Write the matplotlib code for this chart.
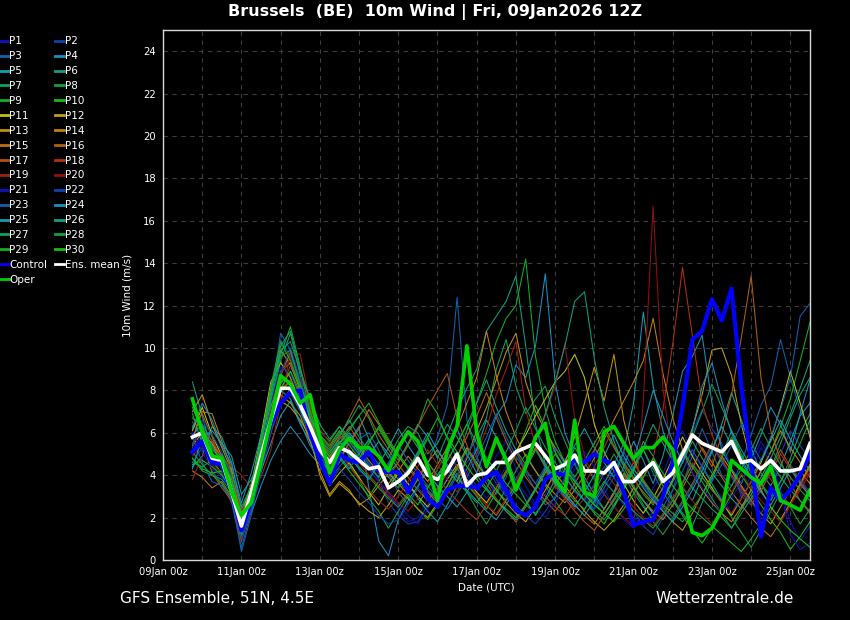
import matplotlib
matplotlib.use('Agg')
import matplotlib.pyplot as plt
import matplotlib.dates as mdates
import pandas as pd

# 6-hourly steps from 09Jan 18z to 25Jan 12z (64 steps)
times = pd.date_range('2026-01-09 18:00', periods=64, freq='6h')

control = [5.1, 5.6, 4.6, 4.5, 3.2, 1.4, 2.8, 4.6, 6.4, 7.4, 7.9, 8.0, 6.0, 4.7, 3.6, 5.0,
           4.7, 4.6, 5.1, 4.2, 4.15, 4.15, 3.2, 4.15, 2.9, 2.5, 3.3, 3.5, 3.5, 3.4, 3.9, 4.15,
           3.3, 2.35, 2.1, 2.5, 3.8, 4.1, 4.0, 4.8, 4.6, 5.0, 4.7, 4.5, 3.2, 1.65, 1.8, 1.9,
           3.0, 4.6, 7.2, 10.4, 10.8, 12.3, 11.3, 12.8, 8.2, 4.6, 1.1, 3.4, 2.8, 3.3, 4.0, 5.0]
ens_mean = [5.8, 6.0, 4.8, 4.7, 3.2, 1.6, 3.2, 4.9, 6.6, 8.1, 8.1, 7.3, 6.3, 5.2, 4.6, 5.3,
            5.1, 4.7, 4.3, 4.4, 3.4, 3.7, 4.1, 4.8, 4.0, 3.8, 4.2, 5.0, 3.5, 4.0, 4.1, 4.6,
            4.6, 5.1, 5.3, 5.5, 4.9, 4.3, 4.5, 4.95, 4.2, 4.2, 4.1, 4.6, 3.7, 3.7, 4.2, 4.6,
            3.7, 4.1, 5.0, 5.9, 5.5, 5.3, 5.1, 5.6, 4.6, 4.7, 4.3, 4.7, 4.2, 4.2, 4.3, 5.5]
oper = [7.6, 6.0, 4.9, 4.8, 3.2, 2.1, 2.7, 4.6, 6.6, 8.7, 8.3, 7.4, 7.8, 5.8, 4.1, 5.2,
        5.75, 5.3, 5.3, 4.9, 4.2, 5.3, 6.05, 5.6, 4.4, 2.8, 5.2, 6.3, 10.1, 6.0, 4.4, 5.75,
        4.7, 3.3, 4.4, 5.8, 6.45, 3.8, 3.2, 6.6, 3.2, 3.0, 6.05, 6.3, 5.5, 4.8, 5.3, 5.3,
        5.8, 5.2, 3.1, 1.3, 1.15, 1.5, 2.35, 4.7, 4.3, 3.9, 3.6, 4.4, 2.8, 2.6, 2.35, 3.3]

p01 = [5.2, 5.9, 5.0, 4.4, 3.0, 1.0, 2.6, 4.9, 7.0, 8.6, 8.4, 7.3, 6.1, 4.8, 4.1, 4.9,
       5.3, 4.2, 3.9, 4.6, 3.1, 2.4, 1.8, 2.0, 2.9, 3.6, 4.4, 5.1, 4.0, 3.2, 3.8, 4.9,
       5.6, 4.3, 3.5, 2.6, 3.1, 4.2, 4.8, 3.9, 3.0, 2.4, 3.3, 2.6, 1.9, 1.5, 2.2, 3.4,
       4.1, 5.2, 6.1, 5.0, 4.4, 3.6, 2.9, 2.2, 3.1, 4.0, 5.3, 4.6, 3.3, 1.8, 0.9, 1.6]
p02 = [4.6, 5.3, 4.7, 4.0, 3.1, 1.3, 3.2, 5.6, 7.7, 10.4, 9.6, 8.0, 6.8, 5.2, 4.6, 5.4,
       5.9, 5.2, 4.6, 3.8, 2.7, 2.1, 1.7, 1.8, 2.6, 3.3, 3.1, 4.0, 4.6, 5.3, 4.4, 3.6,
       3.0, 3.8, 4.6, 5.9, 6.3, 5.1, 4.0, 3.2, 2.8, 3.6, 4.4, 3.9, 3.1, 2.3, 1.6, 1.2,
       2.0, 3.3, 4.8, 6.0, 7.1, 6.2, 5.5, 4.3, 3.0, 2.6, 3.5, 4.2, 5.0, 6.1, 5.4, 4.7]
p03 = [6.5, 5.6, 4.2, 3.6, 2.7, 0.6, 2.3, 4.1, 6.0, 7.4, 7.9, 7.0, 5.8, 4.6, 3.8, 4.4,
       4.9, 5.7, 6.0, 5.2, 4.1, 3.2, 2.6, 3.4, 4.5, 5.8, 7.3, 12.4, 6.6, 4.9, 3.8, 3.1,
       3.9, 5.2, 4.1, 3.3, 2.6, 2.9, 3.8, 4.6, 3.7, 2.8, 2.1, 2.9, 3.6, 4.4, 5.2, 4.1,
       3.2, 2.5, 3.6, 4.9, 6.2, 5.1, 4.0, 3.5, 4.6, 5.9, 7.3, 8.2, 10.4, 8.6, 7.1, 6.0]
p04 = [5.9, 6.4, 5.6, 4.8, 3.9, 2.0, 2.2, 3.5, 4.7, 5.6, 6.3, 5.7, 5.0, 4.5, 3.9, 4.6,
       5.6, 6.3, 3.4, 0.9, 0.2, 1.9, 2.8, 3.5, 4.2, 3.8, 4.9, 6.2, 5.0, 4.1, 5.4, 6.8,
       7.5, 9.2, 8.6, 10.1, 13.5, 8.4, 6.0, 4.8, 3.9, 3.1, 2.4, 3.2, 4.4, 5.6, 4.7, 3.6,
       4.9, 6.8, 8.9, 9.6, 10.6, 7.4, 5.2, 4.3, 3.6, 4.8, 5.9, 7.2, 6.4, 5.1, 6.9, 8.5]
p05 = [4.4, 4.9, 6.3, 5.8, 4.6, 2.4, 3.3, 4.2, 5.5, 6.8, 7.5, 6.4, 5.6, 5.0, 4.7, 5.5,
       6.0, 5.4, 4.9, 5.6, 5.0, 4.3, 3.6, 2.9, 2.3, 1.8, 2.6, 3.5, 4.3, 5.2, 6.6, 5.8,
       4.9, 3.7, 2.8, 2.1, 2.9, 3.8, 4.7, 5.4, 6.2, 5.3, 4.6, 3.9, 5.1, 7.4, 11.7, 8.2,
       6.1, 4.7, 3.4, 2.8, 3.9, 5.1, 6.4, 7.9, 6.6, 5.3, 4.1, 3.5, 4.4, 5.6, 6.8, 7.4]
p06 = [8.4, 6.8, 5.1, 4.3, 3.1, 1.2, 2.8, 4.6, 6.6, 8.3, 8.9, 7.6, 6.5, 5.5, 5.1, 5.7,
       6.2, 6.8, 5.7, 4.9, 4.1, 4.6, 5.5, 6.4, 5.8, 4.8, 5.9, 7.1, 8.1, 9.0, 10.8, 11.5,
       12.2, 13.4, 10.1, 6.4, 4.5, 3.6, 4.2, 5.3, 4.6, 3.8, 3.1, 2.5, 3.4, 4.3, 5.6, 4.9,
       3.8, 2.9, 2.2, 1.6, 2.7, 3.8, 4.9, 6.1, 5.2, 4.4, 3.6, 2.8, 3.7, 4.8, 6.0, 6.9]
p07 = [4.8, 4.2, 4.0, 3.8, 3.2, 1.1, 2.9, 5.1, 7.3, 9.4, 10.7, 8.7, 6.3, 5.8, 5.3, 6.0,
       6.5, 7.3, 6.7, 5.6, 4.8, 5.7, 6.3, 6.0, 5.0, 5.5, 6.4, 5.8, 4.9, 5.8, 6.7, 9.0,
       10.4, 8.2, 6.9, 7.6, 8.2, 6.7, 5.6, 4.5, 3.6, 2.9, 2.4, 3.1, 4.0, 3.2, 2.5, 1.9,
       2.8, 3.7, 4.6, 5.8, 7.0, 8.3, 7.2, 6.1, 5.0, 4.1, 3.2, 4.3, 5.5, 6.7, 7.8, 8.6]
p08 = [7.6, 6.3, 5.3, 4.6, 3.6, 1.5, 3.3, 5.3, 7.1, 8.9, 9.3, 8.2, 7.0, 5.6, 4.8, 5.2,
       4.5, 3.8, 2.9, 2.3, 1.5, 2.3, 3.0, 2.4, 1.9, 2.6, 3.3, 4.1, 3.2, 2.4, 1.7, 2.5,
       3.4, 4.2, 5.0, 4.2, 3.5, 2.8, 2.1, 1.6, 2.4, 3.2, 4.1, 5.0, 4.2, 3.4, 2.6, 1.8,
       1.2, 1.9, 2.7, 3.5, 4.4, 3.6, 2.8, 2.0, 1.3, 0.6, 1.4, 2.3, 3.2, 2.5, 1.7, 2.4]
p09 = [6.9, 5.5, 4.7, 4.1, 3.4, 1.8, 3.4, 5.6, 7.9, 9.7, 11.0, 9.1, 7.3, 6.1, 5.6, 6.3,
       5.8, 5.1, 5.6, 6.2, 5.4, 4.7, 5.5, 6.3, 7.6, 6.9, 5.7, 4.8, 6.1, 7.4, 8.8, 10.3,
       11.4, 12.0, 14.2, 9.6, 7.1, 5.6, 4.6, 3.9, 4.7, 5.5, 6.3, 5.4, 4.6, 3.9, 3.1, 2.6,
       3.4, 4.3, 5.2, 4.4, 3.7, 2.9, 2.2, 1.5, 2.4, 3.3, 4.2, 5.1, 6.3, 7.6, 9.4, 11.2]
p10 = [4.5, 4.7, 4.4, 4.0, 3.3, 1.6, 3.0, 4.8, 6.5, 8.0, 8.4, 7.8, 6.9, 5.3, 4.2, 4.8,
       4.2, 3.6, 3.0, 3.7, 4.4, 3.8, 3.1, 2.6, 3.4, 4.3, 5.1, 4.4, 3.6, 3.0, 2.4, 3.2,
       4.1, 5.0, 6.1, 7.3, 6.2, 5.1, 4.3, 3.5, 2.8, 2.2, 1.7, 2.5, 3.3, 4.2, 5.2, 4.3,
       3.5, 2.8, 2.1, 1.4, 0.8, 1.5, 2.3, 3.1, 4.0, 3.3, 2.6, 1.9, 1.3, 0.5, 1.1, 1.8]
p11 = [6.1, 7.2, 5.9, 4.9, 3.5, 1.9, 3.5, 5.9, 8.4, 9.3, 8.6, 7.4, 6.1, 4.5, 3.5, 4.1,
       4.6, 3.9, 3.2, 2.6, 3.4, 4.1, 3.6, 3.0, 2.5, 3.1, 3.8, 4.5, 3.8, 3.2, 2.7, 3.4,
       4.2, 5.1, 5.9, 6.8, 7.6, 8.4, 8.9, 9.7, 8.6, 6.4, 5.1, 4.2, 3.6, 2.8, 2.2, 2.9,
       3.8, 4.8, 5.8, 4.9, 4.1, 3.4, 2.7, 2.1, 2.9, 3.7, 4.6, 5.7, 7.2, 8.9, 7.4, 5.8]
p12 = [5.4, 6.0, 5.5, 4.7, 3.7, 2.1, 3.6, 5.2, 6.9, 7.5, 7.2, 6.6, 5.8, 4.0, 3.0, 3.6,
       3.2, 2.7, 2.3, 2.0, 2.6, 3.3, 2.9, 2.4, 2.0, 2.7, 3.5, 4.4, 5.3, 4.6, 3.9, 3.3,
       2.7, 2.2, 1.8, 2.5, 3.3, 4.1, 3.5, 2.9, 2.3, 1.8, 1.4, 1.9, 2.6, 3.4, 2.8, 2.2,
       2.9, 3.8, 4.9, 6.2, 7.8, 9.9, 10.0, 8.7, 6.4, 4.6, 3.3, 2.5, 1.9, 2.7, 3.6, 4.5]
p13 = [7.0, 7.8, 6.4, 5.3, 4.2, 2.2, 3.2, 4.9, 6.4, 7.8, 7.4, 6.8, 5.6, 4.2, 3.1, 3.7,
       3.3, 2.6, 2.9, 3.5, 4.1, 3.6, 3.1, 3.8, 4.6, 5.2, 4.4, 3.7, 4.8, 6.1, 7.2, 8.5,
       9.8, 10.7, 8.4, 7.0, 6.1, 5.3, 4.6, 5.8, 7.4, 9.1, 7.5, 9.7, 6.6, 4.8, 3.7, 2.9,
       2.3, 1.8, 1.4, 2.2, 3.1, 4.0, 4.9, 4.2, 3.5, 2.8, 2.2, 1.7, 2.5, 3.3, 4.2, 3.6]
p14 = [5.7, 7.0, 6.9, 5.6, 4.3, 1.7, 2.8, 5.4, 8.1, 9.9, 9.2, 8.0, 6.6, 5.1, 4.4, 5.2,
       5.9, 5.3, 4.7, 4.1, 3.6, 4.2, 4.9, 4.3, 3.7, 4.5, 5.3, 6.2, 7.4, 8.6, 10.8, 8.7,
       7.0, 5.8, 4.9, 4.2, 3.6, 3.1, 2.7, 3.3, 4.0, 4.8, 5.7, 6.6, 7.5, 8.4, 9.4, 11.4,
       8.8, 6.7, 5.2, 4.1, 3.3, 2.7, 2.2, 1.8, 2.5, 3.3, 4.2, 5.1, 6.1, 5.3, 4.6, 3.9]
p15 = [4.2, 3.9, 3.4, 3.7, 3.0, 1.4, 3.1, 5.1, 7.2, 8.7, 9.8, 8.3, 6.1, 4.9, 4.2, 4.8,
       5.5, 6.2, 7.1, 6.4, 5.6, 4.9, 4.3, 3.8, 3.2, 2.7, 3.5, 4.3, 3.7, 3.1, 2.6, 2.1,
       2.8, 3.6, 4.4, 5.3, 4.5, 3.8, 3.2, 2.6, 2.1, 1.7, 2.4, 3.2, 4.1, 3.4, 2.8, 2.3,
       1.9, 2.6, 3.4, 4.3, 5.3, 4.6, 3.9, 3.2, 2.6, 2.0, 1.5, 1.1, 1.8, 2.6, 3.5, 4.4]
p16 = [6.3, 6.9, 5.8, 4.5, 3.3, 1.3, 2.6, 4.7, 6.8, 8.4, 8.8, 7.7, 6.6, 5.5, 5.0, 5.8,
       6.7, 7.6, 6.8, 5.9, 5.2, 4.5, 3.9, 3.3, 2.8, 3.4, 4.1, 4.9, 5.8, 6.8, 7.9, 6.7,
       5.6, 4.7, 3.9, 3.3, 2.8, 2.3, 2.9, 3.6, 4.4, 5.2, 6.1, 5.3, 4.5, 3.8, 3.2, 2.7,
       3.4, 4.2, 5.1, 6.0, 5.2, 4.4, 5.9, 7.8, 10.5, 13.4, 8.6, 6.1, 4.7, 3.6, 2.8, 2.2]
p17 = [5.0, 5.7, 4.1, 3.4, 2.8, 0.9, 2.5, 4.4, 6.3, 8.0, 8.5, 7.9, 7.1, 5.8, 4.8, 5.5,
       6.3, 5.6, 5.0, 4.4, 3.9, 4.6, 5.4, 6.3, 7.2, 8.0, 8.8, 6.7, 5.4, 4.4, 3.6, 2.9,
       2.3, 1.8, 2.5, 3.3, 4.2, 3.5, 2.9, 2.3, 1.8, 1.4, 2.1, 2.9, 3.7, 4.6, 3.8, 3.1,
       2.5, 2.0, 2.8, 3.6, 4.5, 5.5, 4.7, 4.0, 3.4, 2.8, 3.5, 4.3, 5.2, 4.4, 3.7, 3.1]
p18 = [5.5, 6.2, 5.6, 4.9, 4.0, 2.3, 3.0, 4.3, 6.0, 7.9, 9.2, 8.4, 7.2, 5.9, 5.3, 5.9,
       5.2, 4.6, 4.0, 3.5, 3.0, 2.6, 3.2, 3.9, 4.6, 3.9, 3.3, 2.8, 2.3, 1.9, 2.6, 3.4,
       4.2, 5.1, 4.3, 3.6, 3.0, 2.5, 2.1, 2.8, 3.6, 4.4, 5.3, 6.3, 5.4, 4.6, 3.9, 4.8,
       7.1, 10.2, 13.8, 10.6, 7.4, 5.9, 4.8, 3.9, 3.2, 2.6, 3.3, 4.1, 5.0, 4.3, 3.6, 3.0]
p19 = [3.8, 4.9, 5.3, 4.8, 4.4, 4.0, 3.4, 3.9, 5.2, 7.4, 9.8, 9.7, 7.4, 5.2, 4.4, 5.1,
       4.4, 3.8, 3.3, 2.8, 2.4, 3.0, 3.7, 4.4, 5.2, 4.5, 3.8, 3.2, 4.1, 5.0, 6.2, 7.8,
       9.0, 10.3, 7.1, 5.4, 4.3, 3.5, 2.9, 2.4, 2.9, 3.5, 4.2, 3.6, 3.0, 2.5, 2.0, 1.6,
       2.2, 2.9, 3.7, 4.6, 3.9, 3.3, 2.7, 2.2, 2.9, 3.7, 4.5, 3.8, 3.1, 2.6, 3.3, 4.1]
p20 = [4.9, 5.4, 4.5, 4.1, 3.6, 1.9, 3.1, 5.0, 7.0, 8.8, 9.5, 8.6, 7.5, 6.2, 5.5, 6.1,
       5.5, 4.9, 4.3, 3.7, 3.2, 2.7, 2.3, 2.9, 3.6, 4.3, 5.1, 4.4, 3.7, 3.1, 2.6, 2.2,
       2.9, 3.7, 4.6, 5.6, 6.8, 8.2, 10.2, 6.7, 4.9, 3.8, 3.1, 2.5, 2.0, 1.6, 7.5, 16.7,
       8.1, 4.6, 3.5, 2.8, 2.2, 1.7, 2.4, 3.2, 4.1, 3.4, 2.8, 2.3, 1.8, 2.6, 3.4, 4.3]
p21 = [6.0, 5.1, 4.3, 3.9, 3.2, 1.4, 3.0, 5.0, 7.4, 9.1, 8.8, 7.5, 6.2, 4.9, 4.3, 5.0,
       5.6, 4.9, 4.3, 3.7, 3.1, 2.6, 2.1, 1.7, 2.4, 3.1, 3.9, 4.7, 4.1, 3.5, 2.9, 3.6,
       4.4, 3.7, 3.1, 2.5, 2.0, 2.7, 3.5, 4.3, 5.1, 4.4, 3.8, 3.2, 2.6, 2.0, 1.6, 2.3,
       3.1, 4.0, 4.9, 4.1, 3.4, 2.8, 2.2, 2.9, 3.7, 4.6, 5.6, 4.8, 3.3, 1.2, 0.5, 0.8]
p22 = [5.3, 6.6, 5.9, 5.1, 3.8, 1.0, 2.4, 4.3, 6.6, 8.8, 10.0, 8.5, 6.9, 5.4, 3.6, 4.3,
       3.8, 3.2, 2.7, 2.1, 1.7, 1.9, 2.6, 3.4, 2.9, 2.5, 3.2, 4.0, 4.9, 5.9, 4.7, 3.8,
       3.1, 2.6, 2.1, 1.7, 2.3, 3.0, 3.9, 3.3, 2.8, 2.4, 3.1, 3.9, 4.8, 4.1, 3.5, 2.9,
       2.4, 2.0, 2.7, 3.5, 4.4, 5.4, 4.6, 3.9, 3.3, 2.7, 2.2, 2.9, 3.7, 4.5, 3.8, 3.2]
p23 = [5.8, 4.6, 3.7, 3.5, 2.9, 0.4, 2.1, 4.6, 7.6, 10.7, 9.9, 8.1, 6.4, 5.0, 4.5, 5.3,
       5.9, 5.2, 4.5, 3.9, 4.6, 5.4, 4.7, 4.1, 3.5, 2.9, 2.4, 3.1, 3.9, 4.8, 5.8, 6.9,
       5.8, 4.9, 4.2, 3.6, 4.4, 5.3, 4.5, 3.8, 3.2, 2.7, 3.4, 4.2, 5.1, 4.3, 3.6, 3.0,
       2.5, 3.3, 4.2, 5.2, 4.4, 3.7, 4.5, 5.4, 6.4, 5.5, 4.7, 5.8, 7.1, 8.6, 11.5, 12.1]
p24 = [6.2, 7.4, 6.6, 5.4, 4.5, 2.7, 4.1, 5.9, 7.3, 8.0, 7.6, 6.5, 5.4, 4.7, 4.2, 4.9,
       4.3, 5.0, 5.7, 4.9, 4.2, 3.6, 4.3, 5.1, 6.0, 5.2, 4.5, 3.9, 3.3, 2.8, 2.3, 1.9,
       2.6, 3.4, 4.3, 5.2, 4.4, 3.7, 3.1, 2.6, 2.1, 2.8, 3.6, 4.5, 5.5, 4.7, 6.3, 8.0,
       6.8, 5.6, 4.6, 6.1, 8.2, 9.3, 7.5, 6.0, 4.8, 3.9, 3.2, 2.6, 3.4, 4.3, 3.6, 3.0]
p25 = [4.3, 5.8, 6.1, 5.5, 4.9, 3.1, 3.8, 4.9, 6.2, 7.3, 8.1, 7.1, 6.0, 5.4, 4.9, 5.6,
       4.9, 4.3, 3.8, 4.5, 5.3, 6.2, 5.4, 4.7, 4.1, 3.5, 3.0, 2.5, 3.2, 4.0, 3.4, 2.8,
       2.3, 1.9, 2.6, 3.4, 4.3, 3.6, 3.0, 2.5, 3.2, 4.0, 4.9, 5.9, 4.9, 4.1, 3.4, 2.8,
       2.3, 1.8, 2.5, 3.3, 4.2, 5.2, 6.3, 5.4, 4.6, 3.9, 4.7, 5.6, 6.6, 5.7, 4.9, 4.2]
p26 = [7.2, 6.1, 5.4, 4.6, 3.5, 1.7, 3.2, 5.5, 7.7, 9.9, 10.3, 8.9, 7.6, 6.4, 5.7, 6.3,
       5.6, 5.0, 4.4, 3.9, 4.5, 5.2, 6.0, 5.3, 4.6, 4.0, 4.7, 5.5, 6.4, 7.4, 8.5, 7.2,
       6.1, 5.2, 4.5, 5.6, 6.9, 8.4, 10.1, 12.2, 12.65, 9.5, 7.2, 5.6, 4.4, 3.5, 2.8, 2.2,
       2.9, 3.7, 4.6, 5.6, 4.8, 4.1, 3.5, 2.9, 2.4, 3.1, 3.9, 4.8, 5.8, 6.9, 8.1, 9.4]
p27 = [4.6, 4.4, 4.7, 5.0, 4.1, 2.5, 3.5, 5.4, 7.9, 10.1, 10.8, 9.0, 7.0, 5.7, 5.2, 5.9,
       6.6, 5.8, 5.1, 4.5, 3.9, 3.4, 4.1, 4.9, 5.7, 4.9, 4.3, 3.7, 3.2, 2.7, 3.4, 4.2,
       5.1, 6.1, 7.2, 6.2, 5.3, 4.6, 3.9, 3.3, 2.8, 2.3, 1.9, 2.6, 3.4, 4.3, 5.3, 6.4,
       5.5, 4.7, 4.0, 3.4, 2.9, 2.4, 2.0, 1.5, 2.2, 2.9, 3.7, 4.6, 3.9, 3.3, 2.8, 2.3]
p28 = [5.1, 4.5, 4.0, 3.6, 2.9, 1.2, 2.9, 5.0, 7.5, 9.6, 9.9, 8.3, 7.0, 5.7, 5.1, 5.6,
       5.0, 4.4, 3.9, 3.4, 2.9, 2.5, 3.1, 3.8, 3.3, 2.8, 3.5, 4.3, 5.2, 4.5, 3.9, 3.3,
       2.8, 3.5, 4.3, 5.2, 4.5, 3.9, 3.3, 2.8, 2.4, 3.0, 3.7, 3.2, 2.7, 2.3, 1.9, 1.5,
       2.1, 2.8, 3.6, 4.5, 3.9, 3.3, 2.8, 3.5, 4.3, 5.2, 6.2, 5.3, 4.5, 3.9, 3.3, 2.8]
p29 = [6.7, 6.3, 5.2, 4.8, 3.8, 1.9, 3.5, 5.7, 8.2, 10.3, 9.4, 8.1, 6.8, 5.4, 4.9, 5.5,
       6.1, 6.8, 7.4, 6.5, 5.7, 5.0, 4.4, 3.9, 3.4, 4.0, 4.7, 5.5, 6.4, 5.5, 4.8, 4.2,
       3.6, 3.1, 2.6, 2.2, 2.8, 3.5, 4.3, 3.7, 3.1, 2.6, 2.2, 2.8, 3.5, 4.3, 3.7, 3.1,
       2.6, 2.2, 1.8, 2.4, 3.1, 3.9, 4.8, 5.8, 4.9, 4.2, 3.6, 3.0, 3.7, 4.5, 5.5, 6.6]
p30 = [4.8, 4.3, 4.1, 4.2, 3.6, 2.0, 2.9, 4.5, 6.3, 8.1, 8.9, 7.9, 6.7, 5.9, 5.4, 6.1,
       5.4, 4.8, 5.5, 6.3, 5.5, 4.9, 4.3, 5.0, 5.8, 6.7, 5.8, 5.1, 4.4, 3.8, 3.3, 2.8,
       2.4, 2.0, 2.6, 3.3, 4.1, 5.0, 4.3, 3.7, 3.1, 2.6, 2.2, 1.8, 2.4, 3.1, 3.9, 4.8,
       4.1, 3.5, 2.9, 2.4, 2.0, 1.6, 1.2, 0.8, 0.4, 1.0, 1.7, 2.5, 1.9, 1.4, 1.0, 0.6]

members = [p01, p02, p03, p04, p05, p06, p07, p08, p09, p10,
           p11, p12, p13, p14, p15, p16, p17, p18, p19, p20,
           p21, p22, p23, p24, p25, p26, p27, p28, p29, p30]

# members 21-30 reuse the colours of 1-10
member_colors = ['#1010c0', '#1040b0', '#1060b0', '#1890c0', '#10a0b0',
                 '#10a080', '#10a060', '#10a040', '#10b020', '#10c010',
                 '#c0c010', '#c0a010', '#c09010', '#c08010', '#c07010',
                 '#b06010', '#b05010', '#b03010', '#a02010', '#901010']

fig = plt.figure(figsize=(8.5, 6.2), dpi=100, facecolor='black')
ax = fig.add_axes([0.1918, 0.0968, 0.7611, 0.8548])
ax.set_facecolor('black')

handles = []
for i, vals in enumerate(members):
    h, = ax.plot(times, vals, color=member_colors[i % 20], lw=0.75, label=f'P{i + 1}')
    handles.append(h)
h_ctl, = ax.plot(times, control, color='#0000ff', lw=3.0, label='Control')
h_mean, = ax.plot(times, ens_mean, color='white', lw=2.6, label='Ens. mean')
h_op, = ax.plot(times, oper, color='#00d000', lw=2.6, label='Oper')

ax.set_xlim(pd.Timestamp('2026-01-09 00:00'), pd.Timestamp('2026-01-25 12:00'))
ax.set_ylim(0, 25)
ax.set_yticks(range(0, 25, 2))
ax.xaxis.set_major_locator(mdates.DayLocator(bymonthday=range(9, 26, 2)))
ax.xaxis.set_minor_locator(mdates.DayLocator())
ax.xaxis.set_major_formatter(mdates.DateFormatter('%d%b %Hz'))

ax.grid(True, which='both', axis='x', color='#3c3c3c', ls=(0, (4, 4)), lw=0.8)
ax.grid(True, which='major', axis='y', color='#3c3c3c', ls=(0, (4, 4)), lw=0.8)
ax.set_axisbelow(True)
ax.tick_params(which='both', length=0, colors='white', labelsize=7.2, pad=5)
for s in ax.spines.values():
    s.set_color('#d8d8d8')
    s.set_linewidth(1.0)

ax.set_xlabel('Date (UTC)', color='white', fontsize=7.5, labelpad=4)
ax.set_ylabel('10m Wind (m/s)', color='white', fontsize=7.5, labelpad=8)

fig.text(0.512, 0.98, 'Brussels  (BE)  10m Wind | Fri, 09Jan2026 12Z',
         color='white', fontsize=11.5, fontweight='bold', ha='center', va='center')
fig.text(0.141, 0.034, 'GFS Ensemble, 51N, 4.5E', color='white', fontsize=11, va='center')
fig.text(0.934, 0.034, 'Wetterzentrale.de', color='white', fontsize=11, ha='right', va='center')

# legend reads row-wise (P1 P2 / P3 P4 ...), matplotlib fills column-wise
col1 = handles[0::2] + [h_ctl, h_op]
col2 = handles[1::2] + [h_mean]
leg = fig.legend(col1 + col2, [h.get_label() for h in col1 + col2],
                 loc='upper left', bbox_to_anchor=(-0.0095, 0.953), ncol=2,
                 frameon=False, fontsize=7.5, handlelength=0.9, handletextpad=0.05,
                 columnspacing=0.75, labelspacing=0.47, borderpad=0.2)
for t in leg.get_texts():
    t.set_color('white')
for lh in leg.get_lines():
    lh.set_linewidth(2.0)

fig.savefig('out.png', dpi=100, facecolor='black')
